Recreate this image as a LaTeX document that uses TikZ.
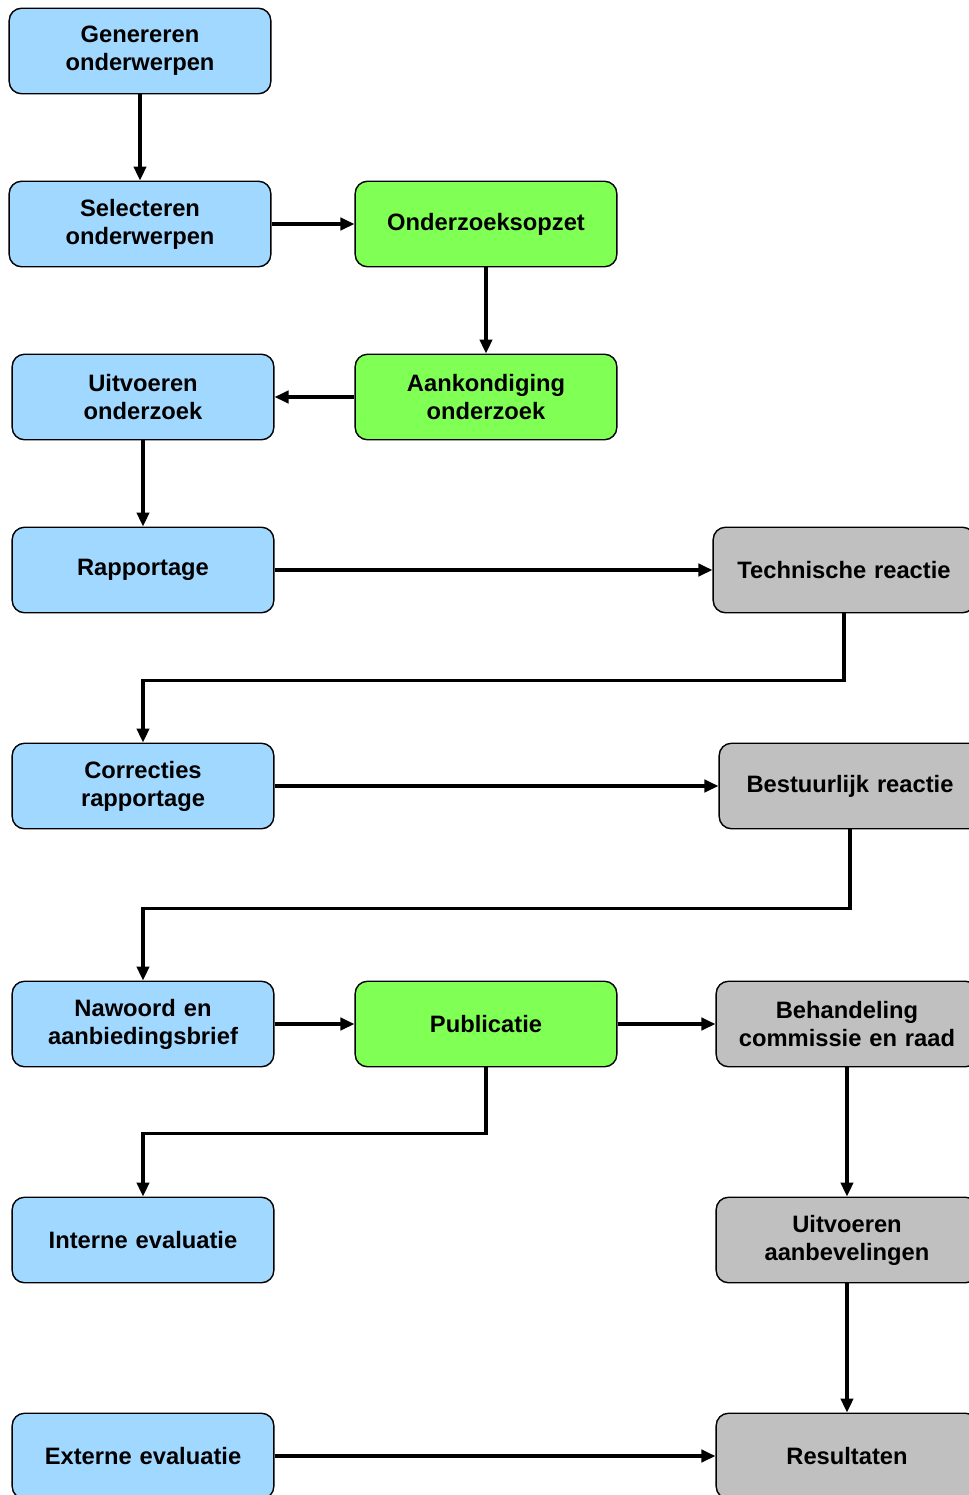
\documentclass[tikz,border=0pt]{standalone}
\usepackage{fontspec}
\setmainfont{Liberation Sans}
\usetikzlibrary{arrows.meta}
\definecolor{stapblauw}{RGB}{160,216,255}
\definecolor{stapgroen}{RGB}{128,255,85}
\definecolor{stapgrijs}{RGB}{192,192,192}
\tikzset{
  stapbox/.style={draw, line width=0.8pt, rounded corners=7pt, minimum width=5.17cm, minimum height=1.71cm, text width=5cm, align=center, font=\fontsize{13.5}{16}\selectfont\bfseries},
  blauw/.style={stapbox, fill=stapblauw},
  groen/.style={stapbox, fill=stapgroen},
  grijs/.style={stapbox, fill=stapgrijs},
  pijl/.style={line width=1.9pt, -{Triangle[length=8pt,width=7pt]}}
}
\begin{document}
\begin{tikzpicture}[x=0.02cm, y=-0.02cm]
\useasboundingbox (0,0) rectangle (969,1495);
\begin{scope}
\clip (0,0) rectangle (969,1495);
\node[blauw] (gen) at (140,51) {Genereren\\onderwerpen};
\node[blauw] (sel) at (140,224) {Selecteren\\onderwerpen};
\node[groen] (opzet) at (486,224) {Onderzoeksopzet};
\node[groen] (aank) at (486,397) {Aankondiging\\onderzoek};
\node[blauw] (uitv) at (143,397) {Uitvoeren\\onderzoek};
\node[blauw] (rapp) at (143,570) {Rapportage};
\node[grijs] (tech) at (844,570) {Technische reactie};
\node[blauw] (corr) at (143,786) {Correcties\\rapportage};
\node[grijs] (best) at (850,786) {Bestuurlijk reactie};
\node[blauw] (naw) at (143,1024) {Nawoord en\\aanbiedingsbrief};
\node[groen] (pub) at (486,1024) {Publicatie};
\node[grijs] (beh) at (847,1024) {Behandeling\\commissie en raad};
\node[blauw] (intern) at (143,1240) {Interne evaluatie};
\node[grijs] (aanb) at (847,1240) {Uitvoeren\\aanbevelingen};
\node[blauw] (extern) at (143,1456) {Externe evaluatie};
\node[grijs] (res) at (847,1456) {Resultaten};
\end{scope}
\draw[pijl] (gen) -- (sel);
\draw[pijl] (sel) -- (opzet);
\draw[pijl] (opzet) -- (aank);
\draw[pijl] (aank) -- (uitv);
\draw[pijl] (uitv) -- (rapp);
\draw[pijl] (rapp) -- (tech);
\draw[pijl] (tech.south) -- ++(0,67) -| (corr.north);
\draw[pijl] (corr) -- (corr -| best.west);
\draw[pijl] (best.south) -- ++(0,79) -| (naw.north);
\draw[pijl] (naw) -- (pub);
\draw[pijl] (pub) -- (beh);
\draw[pijl] (pub.south) -- ++(0,66) -| (intern.north);
\draw[pijl] (beh) -- (aanb);
\draw[pijl] (aanb) -- (res);
\draw[pijl] (extern) -- (res);
\end{tikzpicture}
\end{document}
